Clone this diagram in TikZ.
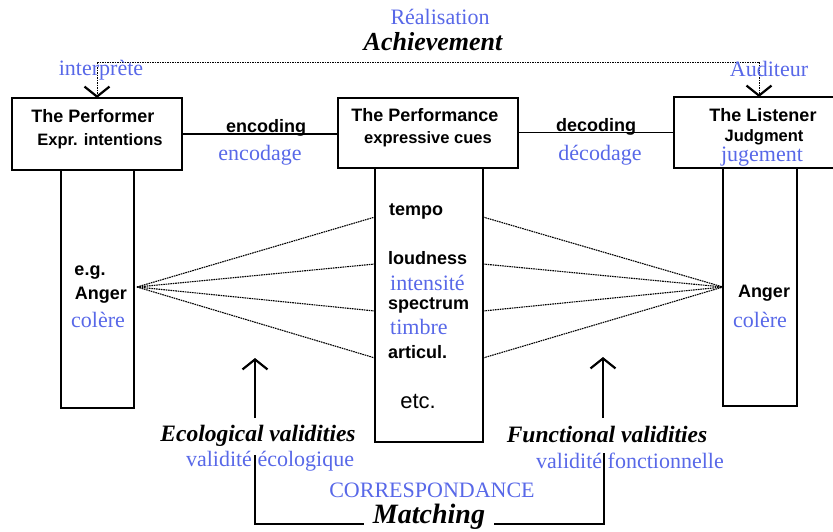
\documentclass[tikz,border=0pt]{standalone}
\usepackage{fontspec}
\setmainfont{Liberation Serif}
\newfontfamily\hsans{Liberation Sans}
\usetikzlibrary{arrows.meta}
\definecolor{frblue}{RGB}{88,104,232}
\tikzset{
  box/.style={draw,line width=1.6pt,inner sep=0pt,outer sep=0pt},
  lbl/.style={font=\hsans\bfseries\fontsize{18}{20}\selectfont,inner sep=0pt},
  sublbl/.style={font=\hsans\bfseries\fontsize{16.5}{18}\selectfont,inner sep=0pt},
  fr/.style={text=frblue,font=\fontsize{22}{24}\selectfont,inner sep=0pt},
  big/.style={font=\bfseries\itshape\fontsize{#1}{28}\selectfont,inner sep=0pt},
  fan/.style={line width=1.1pt,dash pattern=on 1.6pt off 0.8pt},
  ach/.style={line width=1pt,dash pattern=on 1.5pt off 1pt},
  barb/.style={-{Straight Barb[length=10pt,width=25pt,line width=2.2pt]}}
}
\begin{document}
\begin{tikzpicture}[x=1pt,y=-1pt]
\useasboundingbox (0,0) rectangle (833,531);
% the three boxes
\node[box,minimum width=170pt,minimum height=72pt] (performer) at (97,134) {};
\node[box,minimum width=180pt,minimum height=70pt] (performance) at (428,133) {};
\node[box,minimum width=162pt,minimum height=71pt] (listener) at (755,132.5) {};
% columns under the boxes
\node[box,minimum width=73pt,minimum height=238pt] (percol) at (97.5,289) {};
\node[box,minimum width=108pt,minimum height=274pt] (cuecol) at (429,305) {};
\node[box,minimum width=74pt,minimum height=238pt] (liscol) at (760,287) {};
% box texts
\node[lbl] (tperf) at (93,116) {The Performer};
\node[sublbl] (tintent) at (100,141) {Expr. intentions};
\node[lbl] (tperfc) at (425,115) {The Performance};
\node[sublbl] (tcues) at (428,139) {expressive cues};
\node[lbl] (tlist) at (763,115) {The Listener};
\node[sublbl] (tjudg) at (764,137) {Judgment};
\node[fr] (tjuge) at (762,157) {jugement};
% encoding / decoding
\draw[line width=1.6pt] (performer.east) -- (performer.east -| performance.west);
\draw[line width=1.6pt] (performance.east |- listener.west) -- (listener.west);
\node[lbl] (enc) at (266,128) {encoding};
\node[fr] (encfr) at (260,155) {encodage};
\node[lbl] (dec) at (596,127) {decoding};
\node[fr] (decfr) at (600,155) {décodage};
% achievement
\node[fr] (real) at (440,17) {Réalisation};
\node[big=26] (achv) at (433,42) {Achievement};
\coordinate (achL) at (97,62);
\coordinate (achR) at (759,62);
\draw[ach] (achL) -- (achR);
\draw[ach,barb] (achL) -- (performer.north);
\draw[ach,barb] (achR) -- (achR |- listener.north);
\node[fr] (interp) at (101,70) {interprète};
\node[fr] (audit) at (769,69) {Auditeur};
% column texts
\node[lbl] (eg) at (90,273) {e.g.};
\node[lbl] (angL) at (101,295) {Anger};
\node[fr] (colL) at (98,320) {colère};
\node[lbl] (angR) at (764,293) {Anger};
\node[fr] (colR) at (760,320) {colère};
\node[lbl,anchor=west] (tempo) at (389,211) {tempo};
\node[lbl,anchor=west] (loud) at (388,258) {loudness};
\node[fr,anchor=west] (intens) at (390,283) {intensité};
\node[lbl,anchor=west] (spec) at (388,305) {spectrum};
\node[fr,anchor=west] (timb) at (390,327) {timbre};
\node[lbl,anchor=west] (artic) at (388,352) {articul.};
\node[font=\hsans\fontsize{22}{24}\selectfont,inner sep=0pt] (etc) at (418,401) {etc.};
% cue utilisation lines
\coordinate (apexL) at (137,287);
\foreach \y in {217,264,311,358}{
  \draw[fan] (apexL) -- (cuecol.west |- 0,\y);
  \draw[fan] (cuecol.east |- 0,\y) -- (liscol.west);
}
% validities
\coordinate (ecoB) at (255,418);
\coordinate (ecoT) at (255,358);
\coordinate (funB) at (603,418);
\coordinate (funT) at (603,357);
\draw[line width=1.2pt,barb] (ecoB) -- (ecoT);
\draw[line width=1.2pt,barb] (funB) -- (funT);
\node[big=23.5] (eco) at (258,436) {Ecological validities};
\node[fr] (ecofr) at (270,461) {validité écologique};
\node[big=23.5] (fun) at (607,434) {Functional validities};
\node[fr] (funfr) at (630,461) {validité fonctionnelle};
% matching
\node[fr] (corr) at (432,490) {CORRESPONDANCE};
\node[big=28,inner xsep=9pt] (match) at (429,517) {Matching};
\draw[line width=2pt] (255,455) |- (match.base west);
\draw[line width=2pt] (match.base east) -| (604,453);
\end{tikzpicture}
\end{document}
